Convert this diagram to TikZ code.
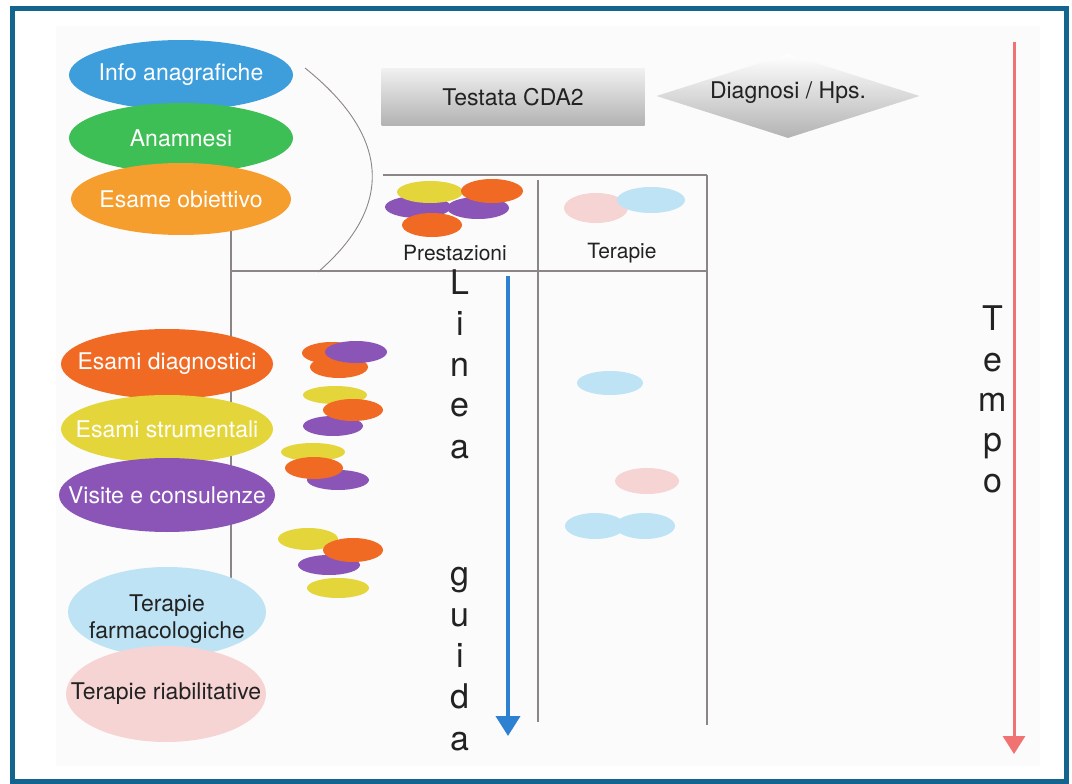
\documentclass[tikz,border=0pt]{standalone}
\usepackage{fontspec}
\setmainfont{TeX Gyre Heros}
\usetikzlibrary{shapes.geometric,arrows.meta}

\definecolor{frameblue}{HTML}{13658F}
\definecolor{infoblue}{HTML}{3E9EDC}
\definecolor{anagreen}{HTML}{3DBF55}
\definecolor{esorange}{HTML}{F59E2E}
\definecolor{redorange}{HTML}{F06A24}
\definecolor{mustard}{HTML}{E4D63A}
\definecolor{violet}{HTML}{8B55B8}
\definecolor{skyblue}{HTML}{BEE3F4}
\definecolor{rosepink}{HTML}{F7D4D4}
\definecolor{guideblue}{HTML}{2E80D0}
\definecolor{timered}{HTML}{F07272}
\definecolor{rulegray}{HTML}{8C8585}
\definecolor{inktext}{HTML}{222222}

\tikzset{
  % ellipse of fixed size; its caption is set as a centred label
  pill/.style={ellipse, inner sep=0pt},
  whitecap/.style={text=white, font=\fontsize{23}{27}\selectfont, inner sep=0pt},
  darkcap/.style={text=inktext, font=\fontsize{23}{27}\selectfont, align=center, inner sep=0pt},
  chip/.style={ellipse, inner sep=0pt},
  rulel/.style={rulegray, line width=1.1pt},
  vletter/.style={anchor=base, inner sep=0pt, font=\fontsize{34}{38}\selectfont, text=inktext},
  headtxt/.style={font=\fontsize{21}{24}\selectfont, text=inktext},
  boxtxt/.style={font=\fontsize{23}{26}\selectfont, text=inktext},
}

\begin{document}
\begin{tikzpicture}[x=1pt,y=-1pt]
\useasboundingbox (0,0) rectangle (1072,784);
\fill[white] (0,0) rectangle (1072,784);
% faint drawing area
\fill[black!1.5] (56,26) rectangle (1040,766);
% outer frame
\draw[frameblue, line width=5pt] (12,8.5) rectangle (1066,781);

% ---- grid lines (drawn first, so the ellipses cover them) ----
\coordinate (arcA) at (305,68);
\coordinate (arcB) at (318,272);
\coordinate (tTL) at (383,175);
\coordinate (tTR) at (707,175);
\coordinate (hL) at (231,271);
\coordinate (hR) at (707,271);
\coordinate (c1top) at (538,180);
\coordinate (c1bot) at (538,722);
\coordinate (c2bot) at (707,725);
\coordinate (vtop) at (231,230);
\coordinate (vbot) at (231,580);
\draw[rulel, line width=0.9pt] (arcA) .. controls (395,140) and (390,210) .. (arcB);
\draw[rulel] (tTL) -- (tTR);
\draw[rulel] (hL) -- (hR);
\draw[rulel] (c1top) -- (c1bot);
\draw[rulel] (tTR) -- (c2bot);
\draw[rulel] (vtop) -- (vbot);

% ---- header: Testata and diagnosis ----
\node[shade, top color=black!6, bottom color=black!30, minimum width=263, minimum height=56,
      inner sep=0pt, boxtxt] (testata) at (513,97) {Testata CDA2};
\node[diamond, aspect=3.4, shade, top color=white, bottom color=black!30, minimum width=263, minimum height=84,
      inner sep=0pt] (diagnosi) at (788,96) {};
\node[boxtxt] (diagtxt) at (788,93) {Diagnosi / Hps.};

% ---- top-left ellipses ----
\node[pill, fill=infoblue, minimum width=224, minimum height=70,
      label={[whitecap, name=infotxt]center:Info anagrafiche}] (info) at (181,75) {};
\node[pill, fill=anagreen, minimum width=224, minimum height=70,
      label={[whitecap, name=anamtxt]center:Anamnesi}] (anam) at (181,138) {};
\node[pill, fill=esorange, minimum width=220, minimum height=72,
      label={[whitecap, name=esametxt]center:Esame obiettivo}] (esame) at (181,199) {};

% header icons
\node[chip, fill=violet, minimum width=66, minimum height=22] (hp1) at (418,207) {};
\node[chip, fill=mustard, minimum width=66, minimum height=22] (hy) at (430,192) {};
\node[chip, fill=violet, minimum width=62, minimum height=22] (hp2) at (478,208) {};
\node[chip, fill=redorange, minimum width=62, minimum height=24] (ho1) at (492,191) {};
\node[chip, fill=redorange, minimum width=60, minimum height=24] (ho2) at (432,225) {};
\node[headtxt] (prest) at (455,253) {Prestazioni};

\node[chip, fill=rosepink, minimum width=64, minimum height=30] (tp) at (596,208) {};
\node[chip, fill=skyblue, minimum width=68, minimum height=26] (tb) at (651,200) {};
\node[headtxt] (terap) at (622,253) {Terapie};

% ---- left ellipses, middle ----
\node[pill, fill=redorange, minimum width=212, minimum height=70,
      label={[whitecap, name=diagtxt2]center:Esami diagnostici}] (diag) at (167,364) {};
\node[pill, fill=mustard, minimum width=212, minimum height=68,
      label={[whitecap, name=strumtxt]center:Esami strumentali}] (strum) at (167,429) {};
\node[pill, fill=violet, minimum width=216, minimum height=74,
      label={[whitecap, name=visitetxt]center:Visite e consulenze}] (visite) at (167,495) {};
\node[pill, fill=skyblue, minimum width=198, minimum height=90,
      label={[darkcap, name=farmtxt, yshift=-7pt]center:Terapie\\farmacologiche}] (farm) at (167,612) {};
\node[pill, fill=rosepink, minimum width=200, minimum height=96,
      label={[darkcap, name=riabtxt]center:Terapie riabilitative}] (riab) at (166,694) {};

% ---- small chips next to the guideline ----
% group 1
\node[chip, fill=redorange, minimum width=60, minimum height=22] (g1a) at (332,353) {};
\node[chip, fill=redorange, minimum width=58, minimum height=22] (g1b) at (339,367) {};
\node[chip, fill=violet, minimum width=62, minimum height=22] (g1c) at (356,352) {};
% group 2
\node[chip, fill=mustard, minimum width=64, minimum height=18] (g2a) at (335,395) {};
\node[chip, fill=violet, minimum width=60, minimum height=20] (g2b) at (333,426) {};
\node[chip, fill=redorange, minimum width=60, minimum height=22] (g2c) at (353,410) {};
% group 3
\node[chip, fill=mustard, minimum width=64, minimum height=18] (g3a) at (313,452) {};
\node[chip, fill=violet, minimum width=62, minimum height=20] (g3b) at (338,480) {};
\node[chip, fill=redorange, minimum width=58, minimum height=22] (g3c) at (314,468) {};
% group 4
\node[chip, fill=mustard, minimum width=60, minimum height=22] (g4a) at (308,539) {};
\node[chip, fill=violet, minimum width=62, minimum height=20] (g4c) at (329,565) {};
\node[chip, fill=redorange, minimum width=60, minimum height=24] (g4b) at (353,550) {};
\node[chip, fill=mustard, minimum width=62, minimum height=20] (g4d) at (338,588) {};

% therapy chips
\node[chip, fill=skyblue, minimum width=66, minimum height=24] (t1) at (610,383) {};
\node[chip, fill=rosepink, minimum width=64, minimum height=26] (t2) at (647,481) {};
\node[chip, fill=skyblue, minimum width=60, minimum height=26] (t3) at (595,526) {};
\node[chip, fill=skyblue, minimum width=60, minimum height=26] (t4) at (645,526) {};

% ---- guideline arrow ----
\coordinate (gTop) at (508,276);
\coordinate (gBot) at (508,736);
\draw[guideblue, line width=4pt, -{Triangle[width=24pt,length=20pt]}] (gTop) -- (gBot);
\foreach \ch/\yy [count=\k] in {L/294, i/335, n/376, e/416, a/458, g/585, u/626, i/667, d/708, a/750}
  \node[vletter] (lg\k) at (460,\yy) {\ch};

% ---- time arrow ----
\coordinate (tTop) at (1014,42);
\coordinate (tBot) at (1014,754);
\draw[timered, line width=3pt, -{Triangle[width=22pt,length=18pt]}] (tTop) -- (tBot);
\foreach \ch/\yy [count=\k] in {T/330, e/371, m/411, p/451, o/492}
  \node[vletter] (tm\k) at (993,\yy) {\ch};
\end{tikzpicture}
\end{document}
